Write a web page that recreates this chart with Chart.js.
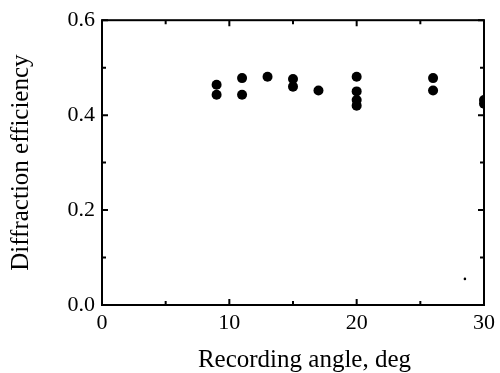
<!DOCTYPE html>
<html>
<head>
<meta charset="utf-8">
<script src="https://cdn.jsdelivr.net/npm/chart.js@4.4.0/dist/chart.umd.min.js"></script>
<style>
  html, body { margin: 0; padding: 0; background: #fff; }
  #wrap { width: 500px; height: 373px; }
</style>
</head>
<body>
<div id="wrap"><canvas id="chart" width="500" height="373"></canvas></div>
<script>
// values
const angles = [9, 9, 11, 11, 13, 15, 15, 17, 20, 20, 20, 20, 26, 26, 30, 30]
const efficiency = [0.464, 0.443, 0.478, 0.443, 0.481, 0.476, 0.460, 0.452, 0.481, 0.450, 0.432, 0.420, 0.478, 0.452, 0.432, 0.424]
// stray speck near the lower right corner
const strayAngle = [28.5]
const strayEff = [0.055]

const xTicks = [0, 5, 10, 15, 20, 25, 30]
const yTicks = [0, 0.1, 0.2, 0.3, 0.4, 0.5, 0.6]
const xTitle = "Recording angle, deg"
const yTitle = "Diffraction efficiency"

const SERIF = "'Liberation Serif', 'Times New Roman', serif"

// frame + inward ticks on all four sides, x title sits a bit right of centre
const framePlugin = {
  id: "frame",
  afterDraw(chart) {
    const { ctx, chartArea: a, scales } = chart
    ctx.save()
    ctx.strokeStyle = "#000"
    ctx.lineWidth = 2
    ctx.strokeRect(a.left, a.top, a.right - a.left, a.bottom - a.top)
    ctx.beginPath()
    xTicks.forEach(v => {
      const x = scales.x.getPixelForValue(v)
      const len = v % 10 === 0 ? 6 : 4
      ctx.moveTo(x, a.bottom); ctx.lineTo(x, a.bottom - len)
      ctx.moveTo(x, a.top); ctx.lineTo(x, a.top + len)
    })
    yTicks.forEach(v => {
      const y = scales.y.getPixelForValue(v)
      const len = Math.round(v * 10) % 2 === 0 ? 6 : 4
      ctx.moveTo(a.left, y); ctx.lineTo(a.left + len, y)
      ctx.moveTo(a.right, y); ctx.lineTo(a.right - len, y)
    })
    ctx.stroke()

    ctx.fillStyle = "#000"
    ctx.font = "25px " + SERIF
    ctx.textAlign = "center"
    ctx.textBaseline = "alphabetic"
    ctx.fillText(xTitle, scales.x.getPixelForValue(15.9), 367)
    ctx.restore()
  }
}

new Chart(document.getElementById("chart"), {
  type: "scatter",
  data: {
    datasets: [
      {
        data: angles.map((a, i) => ({ x: a, y: efficiency[i] })),
        backgroundColor: "#000",
        borderWidth: 0,
        pointRadius: 5,
      },
      {
        data: strayAngle.map((a, i) => ({ x: a, y: strayEff[i] })),
        backgroundColor: "#000",
        borderWidth: 0,
        pointRadius: 1.3,
      },
    ],
  },
  options: {
    responsive: false,
    animation: false,
    events: [],
    layout: { padding: { left: 0, top: 17, right: 12, bottom: 4 } },
    plugins: { legend: { display: false }, tooltip: { enabled: false } },
    scales: {
      x: {
        type: "linear",
        min: 0,
        max: 30,
        afterFit: (s) => { s.height = 64 },
        afterBuildTicks: (s) => { s.ticks = xTicks.map(v => ({ value: v })) },
        grid: { display: false, drawTicks: false },
        border: { display: false },
        ticks: {
          padding: 5,
          color: "#000",
          font: { family: SERIF, size: 22 },
          callback: (v) => (v % 10 === 0 ? String(v) : ""),
        },
      },
      y: {
        type: "linear",
        min: 0,
        max: 0.6,
        afterFit: (s) => { s.width = 102 },
        afterBuildTicks: (s) => { s.ticks = yTicks.map(v => ({ value: v })) },
        grid: { display: false, drawTicks: false },
        border: { display: false },
        ticks: {
          padding: 7,
          color: "#000",
          font: { family: SERIF, size: 22 },
          callback: (v) => (Math.round(v * 10) % 2 === 0 ? v.toFixed(1) : ""),
        },
        title: {
          display: true,
          text: yTitle,
          color: "#000",
          font: { family: SERIF, size: 25 },
          padding: { top: 6, bottom: 0 },
        },
      },
    },
  },
  plugins: [framePlugin],
})
</script>
</body>
</html>
